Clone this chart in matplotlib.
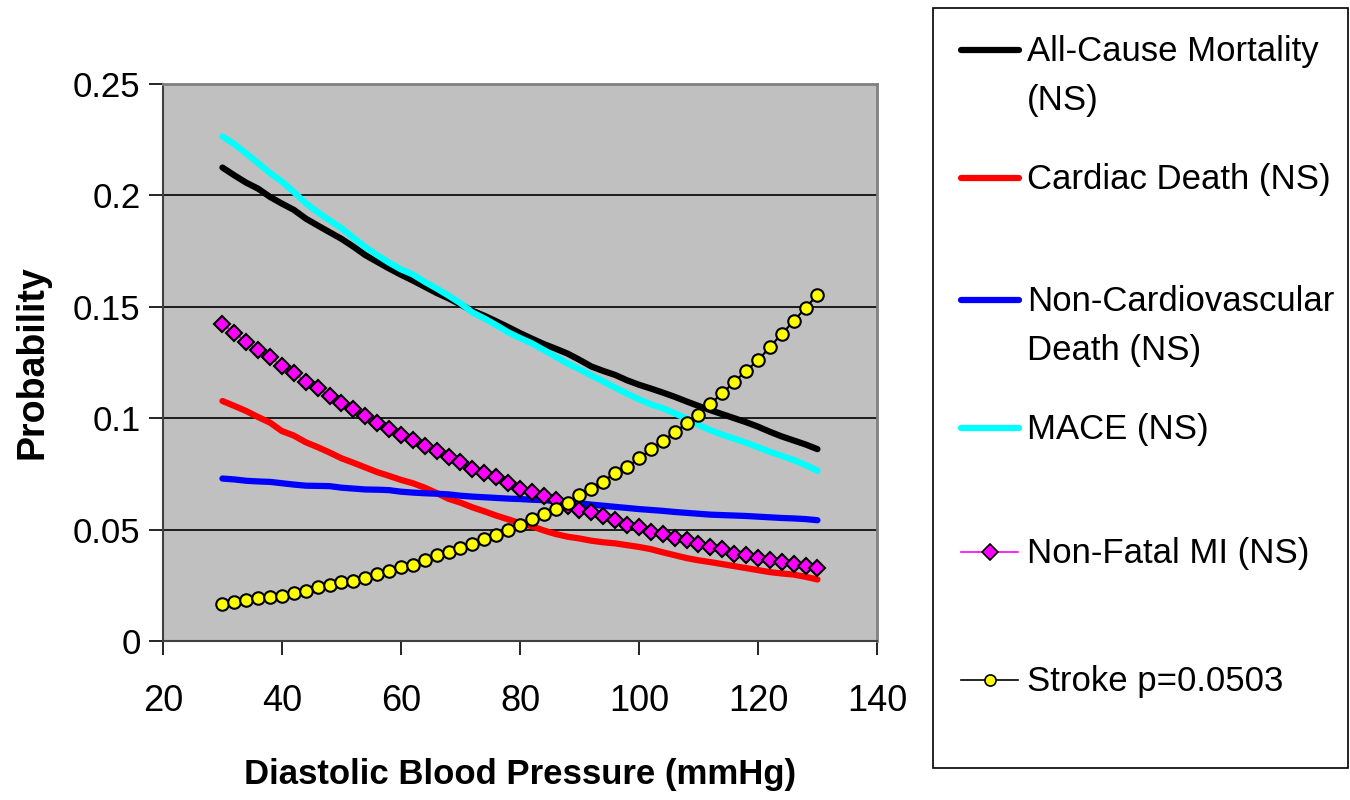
import matplotlib
matplotlib.use("Agg")
import matplotlib.pyplot as plt
from matplotlib.lines import Line2D
from matplotlib.patches import Rectangle

# diastolic blood pressure (mmHg), every 2 from 30 to 130
dbp = list(range(30, 131, 2))

all_cause = [0.2125, 0.2090, 0.2057, 0.2030, 0.1993, 0.1963, 0.1935, 0.1896, 0.1865, 0.1835,
             0.1805, 0.1770, 0.1732, 0.1702, 0.1672, 0.1644, 0.1618, 0.1590, 0.1562, 0.1538,
             0.1510, 0.1482, 0.1460, 0.1435, 0.1409, 0.1382, 0.1357, 0.1333, 0.1312, 0.1290,
             0.1262, 0.1232, 0.1212, 0.1194, 0.1170, 0.1150, 0.1133, 0.1115, 0.1096, 0.1075,
             0.1055, 0.1036, 0.1018, 0.1000, 0.0982, 0.0962, 0.0939, 0.0918, 0.0900, 0.0882,
             0.0861]
cardiac = [0.1077, 0.1055, 0.1032, 0.1005, 0.0980, 0.0942, 0.0922, 0.0892, 0.0870, 0.0846,
           0.0820, 0.0800, 0.0779, 0.0758, 0.0741, 0.0723, 0.0708, 0.0688, 0.0664, 0.0638,
           0.0621, 0.0600, 0.0582, 0.0563, 0.0546, 0.0529, 0.0515, 0.0496, 0.0480, 0.0468,
           0.0460, 0.0450, 0.0443, 0.0438, 0.0430, 0.0422, 0.0412, 0.0398, 0.0385, 0.0372,
           0.0362, 0.0354, 0.0345, 0.0336, 0.0327, 0.0318, 0.0309, 0.0303, 0.0298, 0.0288,
           0.0276]
non_cv = [0.0729, 0.0725, 0.0719, 0.0716, 0.0714, 0.0708, 0.0702, 0.0697, 0.0696, 0.0695,
          0.0688, 0.0684, 0.0680, 0.0679, 0.0677, 0.0670, 0.0666, 0.0663, 0.0661, 0.0658,
          0.0652, 0.0648, 0.0645, 0.0642, 0.0639, 0.0637, 0.0634, 0.0632, 0.0628, 0.0623,
          0.0618, 0.0612, 0.0607, 0.0602, 0.0597, 0.0592, 0.0588, 0.0584, 0.0579, 0.0575,
          0.0571, 0.0567, 0.0565, 0.0563, 0.0561, 0.0558, 0.0555, 0.0552, 0.0550, 0.0547,
          0.0542]
mace = [0.2265, 0.2230, 0.2188, 0.2145, 0.2100, 0.2062, 0.2015, 0.1965, 0.1925, 0.1888,
        0.1853, 0.1810, 0.1768, 0.1732, 0.1698, 0.1668, 0.1645, 0.1612, 0.1582, 0.1550,
        0.1516, 0.1475, 0.1448, 0.1418, 0.1386, 0.1360, 0.1336, 0.1306, 0.1276, 0.1246,
        0.1220, 0.1192, 0.1165, 0.1137, 0.1110, 0.1085, 0.1062, 0.1045, 0.1022, 0.0998,
        0.0970, 0.0946, 0.0926, 0.0908, 0.0890, 0.0870, 0.0849, 0.0831, 0.0812, 0.0790,
        0.0764]
nonfatal_mi = [0.1424, 0.1382, 0.1344, 0.1304, 0.1274, 0.1235, 0.1205, 0.1164, 0.1137, 0.1100,
               0.1070, 0.1040, 0.1010, 0.0980, 0.0950, 0.0924, 0.0903, 0.0875, 0.0854, 0.0824,
               0.0804, 0.0774, 0.0756, 0.0734, 0.0707, 0.0684, 0.0669, 0.0650, 0.0632, 0.0605,
               0.0590, 0.0579, 0.0560, 0.0542, 0.0519, 0.0511, 0.0489, 0.0482, 0.0464, 0.0455,
               0.0434, 0.0421, 0.0414, 0.0392, 0.0384, 0.0374, 0.0365, 0.0354, 0.0344, 0.0336,
               0.0329]
stroke = [0.0167, 0.0174, 0.0186, 0.0194, 0.0196, 0.0204, 0.0214, 0.0223, 0.0241, 0.0253,
          0.0264, 0.0271, 0.0284, 0.0302, 0.0312, 0.0331, 0.0341, 0.0362, 0.0384, 0.0399,
          0.0419, 0.0437, 0.0459, 0.0474, 0.0497, 0.0519, 0.0546, 0.0572, 0.0594, 0.0621,
          0.0654, 0.0684, 0.0714, 0.0756, 0.0782, 0.0819, 0.0860, 0.0899, 0.0936, 0.0977,
          0.1014, 0.1064, 0.1112, 0.1162, 0.1213, 0.1259, 0.1319, 0.1379, 0.1435, 0.1496,
          0.1553]

labels = ["All-Cause Mortality\n(NS)", "Cardiac Death (NS)", "Non-Cardiovascular\nDeath (NS)",
          "MACE (NS)", "Non-Fatal MI (NS)", "Stroke p=0.0503"]

REG = ["Liberation Sans", "DejaVu Sans"]

fig = plt.figure(figsize=(13.5, 8), dpi=100)
ax = fig.add_axes([0.1207, 0.1988, 0.5289, 0.6962])
ax.set_facecolor("#c0c0c0")

ax.plot(dbp, all_cause, color="black", lw=4.5, solid_capstyle="round", zorder=3)
ax.plot(dbp, cardiac, color="#ff0000", lw=4.5, solid_capstyle="round", zorder=3)
ax.plot(dbp, non_cv, color="#0000ff", lw=4.5, solid_capstyle="round", zorder=3)
ax.plot(dbp, mace, color="#00ffff", lw=4.5, solid_capstyle="round", zorder=3)
ax.plot(dbp, nonfatal_mi, color="#ff00ff", lw=1.5, marker="D", ms=8.5,
        mfc="#ff00ff", mec="black", mew=1.5, zorder=4)
ax.plot(dbp, stroke, color="black", lw=1.5, marker="o", ms=9,
        mfc="#ffff00", mec="black", mew=1.5, zorder=5)

ax.set_xlim(20, 140)
ax.set_ylim(0, 0.25)
ax.set_xticks([20, 40, 60, 80, 100, 120, 140])
ax.set_yticks([0, 0.05, 0.1, 0.15, 0.2, 0.25])
ax.set_yticklabels(["0", "0.05", "0.1", "0.15", "0.2", "0.25"], family=REG, fontsize=25)
ax.set_xticklabels(["20", "40", "60", "80", "100", "120", "140"], family=REG, fontsize=26)
ax.grid(axis="y", color="black", lw=1.2, zorder=1)
ax.set_axisbelow(True)
ax.tick_params(axis="y", direction="out", length=10, width=1.2, pad=6)
ax.tick_params(axis="x", direction="out", length=10, width=1.2, pad=21)

for side in ["left", "bottom"]:
    ax.spines[side].set_color("#404040")
    ax.spines[side].set_linewidth(1.5)
for side in ["top", "right"]:
    ax.spines[side].set_color("#808080")
    ax.spines[side].set_linewidth(2)

ax.set_xlabel("Diastolic Blood Pressure (mmHg)", family=REG, fontsize=25,
              fontweight="bold", labelpad=28)
ax.set_ylabel("Probability", family=REG, fontsize=27, fontweight="bold", labelpad=16)

# legend box drawn in figure coords
W, H = 1350.0, 800.0
fig.add_artist(Rectangle((933 / W, 1 - 768 / H), (1348 - 933) / W, (768 - 8) / H,
                         transform=fig.transFigure, facecolor="white",
                         edgecolor="black", lw=1.2))
rows = [50, 178, 300, 428, 552, 680]
styles = [dict(color="black", lw=4.5),
          dict(color="#ff0000", lw=4.5),
          dict(color="#0000ff", lw=4.5),
          dict(color="#00ffff", lw=4.5),
          dict(color="#ff00ff", lw=1.2, marker="D", ms=8, mfc="#ff00ff", mec="black", mew=1.2),
          dict(color="black", lw=1.2, marker="o", ms=8, mfc="#ffff00", mec="black", mew=1.2)]
for yrow, lab, st in zip(rows, labels, styles):
    yy = 1 - yrow / H
    if "marker" in st:
        mk = {k: st[k] for k in ["marker", "ms", "mfc", "mec", "mew"]}
        fig.add_artist(Line2D([961 / W, 1018 / W], [yy, yy], transform=fig.transFigure,
                              color=st["color"], lw=st["lw"]))
        fig.add_artist(Line2D([989.5 / W], [yy], transform=fig.transFigure, ls="none", **mk))
    else:
        fig.add_artist(Line2D([961 / W, 1019 / W], [yy, yy], transform=fig.transFigure,
                              color=st["color"], lw=st["lw"], solid_capstyle="round"))
    fig.text(1027 / W, yy + 15 / H, lab, family=REG, fontsize=25, va="top", ha="left",
             linespacing=1.6)

fig.savefig("out.png", dpi=100, facecolor="white")
